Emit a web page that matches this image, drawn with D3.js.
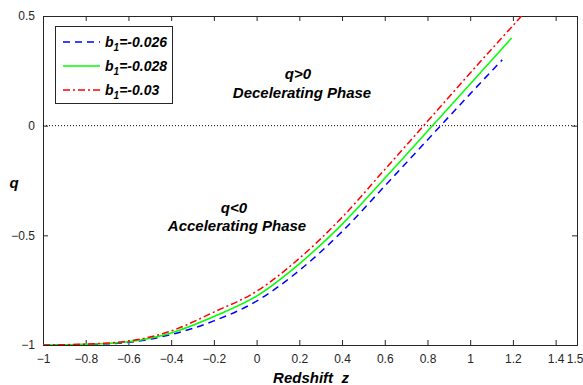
<!DOCTYPE html>
<html>
<head>
<meta charset="utf-8">
<script src="https://cdn.jsdelivr.net/npm/d3@7"></script>
<style>
  body { margin: 0; background: #fff; }
  text { font-family: "Liberation Sans", Arial, sans-serif; }
  .bi { font-weight: bold; font-style: italic; fill: #000; }
</style>
</head>
<body>
<div id="chart"></div>
<script>
// Data
let zBlue  = [-1, -0.8, -0.6, -0.4, -0.2, 0, 0.2, 0.4, 0.6, 0.8, 1.0, 1.15];
let qBlue  = [-1, -0.998, -0.988, -0.952, -0.89, -0.80, -0.66, -0.483, -0.275, -0.065, 0.145, 0.30];
let zGreen = [-1, -0.8, -0.6, -0.4, -0.2, 0, 0.2, 0.4, 0.6, 0.8, 1.0, 1.194];
let qGreen = [-1, -0.997, -0.985, -0.945, -0.87, -0.777, -0.63, -0.45, -0.24, -0.025, 0.19, 0.40];
let zRed   = [-1, -0.8, -0.6, -0.4, -0.2, 0, 0.2, 0.4, 0.6, 0.8, 1.0, 1.25];
let qRed   = [-1, -0.996, -0.982, -0.936, -0.85, -0.755, -0.605, -0.418, -0.20, 0.02, 0.24, 0.51];

let seriesNames = ["-0.026", "-0.028", "-0.03"];
let xTicks = [-1, -0.8, -0.6, -0.4, -0.2, 0, 0.2, 0.4, 0.6, 0.8, 1, 1.2, 1.4, 1.5];
let yTicks = [-1, -0.5, 0, 0.5];

let series = [
  {name: seriesNames[0], z: zBlue, q: qBlue, color: "#0000ff", dash: "7,5"},
  {name: seriesNames[1], z: zGreen, q: qGreen, color: "#00ff00", dash: null},
  {name: seriesNames[2], z: zRed, q: qRed, color: "#ff0000", dash: "7,3,2,3"}
];

let W = 583, H = 385;
let margin = {top: 16, right: 6, bottom: 40, left: 43};

let x = d3.scaleLinear().domain([-1, 1.5]).range([margin.left, W - margin.right]);
let y = d3.scaleLinear().domain([-1, 0.5]).range([H - margin.bottom, margin.top]);

let svg = d3.select("#chart").append("svg")
    .attr("width", W)
    .attr("height", H);

svg.append("defs").append("clipPath").attr("id", "clip")
  .append("rect")
    .attr("x", x(-1)).attr("y", y(0.5))
    .attr("width", x(1.5) - x(-1)).attr("height", y(-1) - y(0.5));

let axisColor = "#262626";

// Axes
let xAxis = svg.append("g")
    .attr("transform", "translate(0," + y(-1) + ")")
    .call(d3.axisBottom(x).tickValues(xTicks).tickSize(-5).tickPadding(9).tickFormat(d3.format("")));
let xTop = svg.append("g")
    .attr("transform", "translate(0," + y(0.5) + ")")
    .call(d3.axisTop(x).tickValues(xTicks).tickSize(-5).tickFormat(""));
let yAxis = svg.append("g")
    .attr("transform", "translate(" + x(-1) + ",0)")
    .call(d3.axisLeft(y).tickValues(yTicks).tickSize(-5).tickPadding(8).tickFormat(d3.format("")));
let yRight = svg.append("g")
    .attr("transform", "translate(" + x(1.5) + ",0)")
    .call(d3.axisRight(y).tickValues(yTicks).tickSize(-5).tickFormat(""));

[xAxis, xTop, yAxis, yRight].forEach(function(g) {
  g.select(".domain").attr("stroke", axisColor).attr("stroke-width", 1);
  g.selectAll(".tick line").attr("stroke", axisColor);
  g.selectAll(".tick text").attr("fill", axisColor).style("font-size", "12px");
});
// last label sits against the right edge, keep it inside
xAxis.selectAll(".tick text")
    .filter(function(d) { return d === 1.5; })
    .attr("text-anchor", "end")
    .attr("dx", 6);

// zero line
svg.append("line")
    .attr("x1", x(-1)).attr("x2", x(1.5))
    .attr("y1", y(0)).attr("y2", y(0))
    .attr("stroke", "#000").attr("stroke-width", 1)
    .attr("stroke-dasharray", "1,2");

// curves
let line = d3.line()
    .x(function(d) { return x(d[0]); })
    .y(function(d) { return y(d[1]); })
    .curve(d3.curveMonotoneX);

let plot = svg.append("g").attr("clip-path", "url(#clip)");
series.forEach(function(s) {
  plot.append("path")
      .datum(s.z.map(function(z, i) { return [z, s.q[i]]; }))
      .attr("d", line)
      .attr("fill", "none")
      .attr("stroke", s.color)
      .attr("stroke-width", 1.5)
      .attr("stroke-dasharray", s.dash);
});

// legend
let legend = svg.append("g");
legend.append("rect")
    .attr("x", 55.5).attr("y", 26.5)
    .attr("width", 117).attr("height", 77)
    .attr("fill", "#fff").attr("stroke", axisColor).attr("stroke-width", 1);
series.forEach(function(s, i) {
  let ly = 42 + i * 24;
  legend.append("line")
      .attr("x1", 63).attr("x2", 100)
      .attr("y1", ly).attr("y2", ly)
      .attr("stroke", s.color).attr("stroke-width", 1.5)
      .attr("stroke-dasharray", s.dash);
  let t = legend.append("text").attr("class", "bi")
      .attr("x", 105).attr("y", ly + 5)
      .style("font-size", "14px");
  t.append("tspan").text("b");
  t.append("tspan").attr("dy", 4).style("font-size", "10px").text("1");
  t.append("tspan").attr("dy", -4).text("=" + s.name);
});

// annotations
function label(txt, cx, cy, size) {
  svg.append("text").attr("class", "bi")
      .attr("x", cx).attr("y", cy)
      .attr("text-anchor", "middle")
      .attr("dominant-baseline", "central")
      .style("font-size", size + "px")
      .text(txt);
}
label("q>0", 298, 73, 15);
label("Decelerating Phase", 302, 92, 15);
label("q<0", 234, 207, 15);
label("Accelerating Phase", 237, 225, 15);

// axis titles
svg.append("text").attr("class", "bi")
    .attr("x", 311).attr("y", 377)
    .attr("text-anchor", "middle")
    .attr("dominant-baseline", "central")
    .style("font-size", "15px")
    .style("white-space", "pre")
    .text("Redshift  z");
svg.append("text").attr("class", "bi")
    .attr("x", 14).attr("y", 182)
    .attr("text-anchor", "middle")
    .attr("dominant-baseline", "central")
    .style("font-size", "15px")
    .text("q");
</script>
</body>
</html>
